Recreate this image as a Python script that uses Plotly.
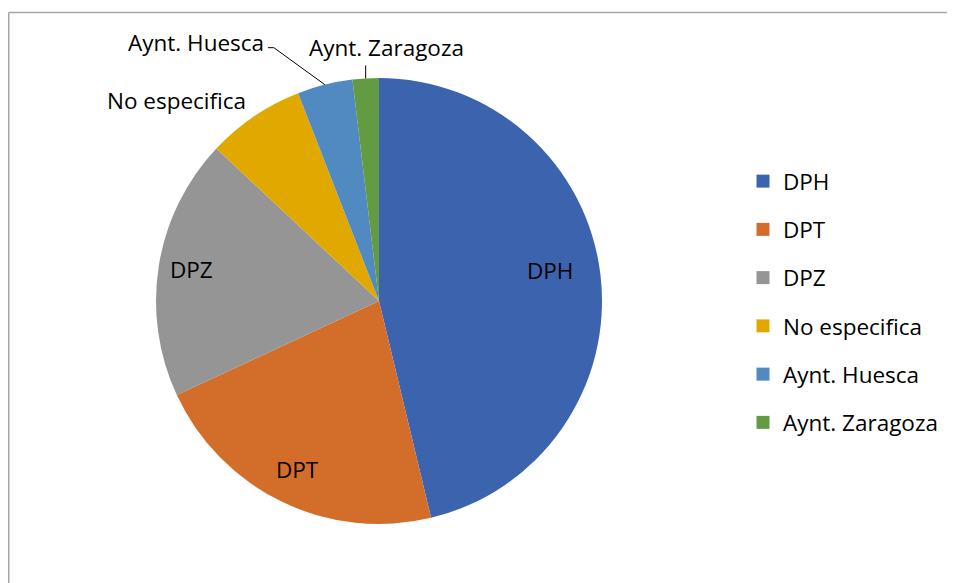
import math
import plotly.graph_objects as go

labels = ["DPH", "DPT", "DPZ", "No especifica", "Aynt. Huesca", "Aynt. Zaragoza"]
values = [46.2, 21.8, 18.9, 7.1, 4.0, 1.9]
colors = ["#3C64AE", "#D36E2A", "#959595", "#E1A800", "#508AC0", "#629B42"]

W, H = 955, 583
OFF = 8  # page body margin in the browser
cx, cy, r = 379 - OFF, 301 - OFF, 223  # pie centre / radius (figure px)
FONT = "Open Sans, sans-serif"
FS = 22.5


def px(x):
    return x / W


def py(y):
    return 1 - y / H


fig = go.Figure()
fig.add_trace(go.Pie(
    labels=labels, values=values, sort=False, direction="clockwise", rotation=0,
    marker=dict(colors=colors, line=dict(width=0)),
    textinfo="none", showlegend=False, hoverinfo="label+percent",
    domain=dict(x=[px(cx - r), px(cx + r)], y=[py(cy + r), py(cy - r)]),
))

# slice mid angles (degrees clockwise from 12 o'clock)
total = sum(values)
mids = []
acc = 0
for v in values:
    mids.append((acc + v / 2) / total * 360)
    acc += v


def edge(i, frac=1.0):
    a = math.radians(mids[i])
    return cx + frac * r * math.sin(a), cy - frac * r * math.cos(a)


annotations = []
shapes = []
# inside labels: (radius fraction, dx, dy)
inside = {0: (0.77, 0, -10), 1: (0.84, 0, 0), 2: (0.85, 0, -2)}
for i, (f, dx, dy) in inside.items():
    x, y = edge(i, f)
    annotations.append(dict(x=px(x + dx), y=py(y + dy), xref="paper", yref="paper",
                            text=labels[i], showarrow=False, xanchor="center", yanchor="middle",
                            font=dict(family=FONT, size=FS, color="black")))

# No especifica: label to upper left of slice edge
x, y = edge(3)
annotations.append(dict(x=px(x - 6), y=py(y - 16), xref="paper", yref="paper", text=labels[3],
                        showarrow=False, xanchor="right", yanchor="middle",
                        font=dict(family=FONT, size=FS, color="black")))
# Aynt. Huesca: leader line with elbow
x, y = edge(4)
ex, ey = x - 51, y - 37
shapes.append(dict(type="path", xref="paper", yref="paper",
                   path=f"M {px(x)} {py(y)} L {px(ex)} {py(ey)} L {px(ex - 6)} {py(ey)}",
                   line=dict(color="black", width=1)))
annotations.append(dict(x=px(ex - 8), y=py(ey - 5), xref="paper", yref="paper", text=labels[4],
                        showarrow=False, xanchor="right", yanchor="middle",
                        font=dict(family=FONT, size=FS, color="black")))
# Aynt. Zaragoza: vertical leader line
x, y = edge(5)
shapes.append(dict(type="line", xref="paper", yref="paper", x0=px(x), x1=px(x), y0=py(y), y1=py(y - 13),
                   line=dict(color="black", width=1)))
annotations.append(dict(x=px(x + 21), y=py(y - 31), xref="paper", yref="paper", text=labels[5],
                        showarrow=False, xanchor="center", yanchor="middle",
                        font=dict(family=FONT, size=FS, color="black")))

# chart border (top and left edges visible)
shapes.append(dict(type="line", xref="paper", yref="paper", x0=px(0.75), x1=1.01, y0=py(4.5), y1=py(4.5),
                   line=dict(color="#A6A6A6", width=1.5)))
shapes.append(dict(type="line", xref="paper", yref="paper", x0=px(0.75), x1=px(0.75), y0=py(4.5), y1=-0.01,
                   line=dict(color="#A6A6A6", width=1.5)))

for lab, col in zip(labels, colors):
    fig.add_trace(go.Scatter(
        x=[None], y=[None], mode="markers", name=lab, legendgroup=lab,
        marker=dict(symbol="square", size=13, color=col), showlegend=True,
    ))

fig.update_layout(
    width=W, height=H, margin=dict(l=0, r=0, t=0, b=0),
    paper_bgcolor="white", plot_bgcolor="white",
    xaxis=dict(visible=False), yaxis=dict(visible=False),
    font=dict(family=FONT, size=FS, color="black"),
    legend=dict(x=px(735), y=py(152), xanchor="left", yanchor="top",
                font=dict(family=FONT, size=FS, color="black"),
                tracegroupgap=16, itemclick=False, bgcolor="rgba(0,0,0,0)"),
    annotations=annotations,
    shapes=shapes,
)

fig.write_html("out.html")
